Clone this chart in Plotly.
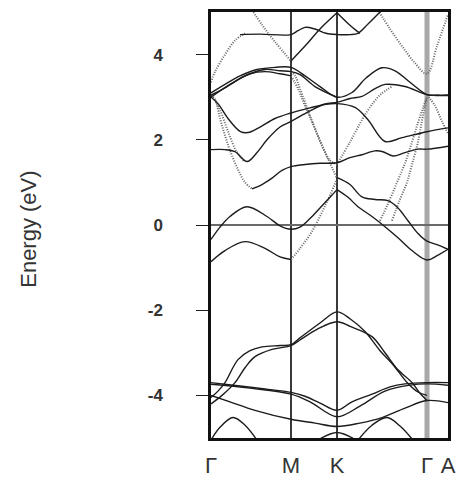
import plotly.graph_objects as go

# High-symmetry points along the path (cumulative k distance)
HSP_LABELS = ["Γ", "M", "K", "Γ", "A"]
HSP_K = [0.0, 0.80, 1.26, 2.16, 2.37]

Y_TICKS = [-4, -2, 0, 2, 4]
E_RANGE = [-5, 5]

# ---------------- solid bands (k, E in eV) ----------------
top_k = [0.29, 0.49, 0.80, 0.87, 0.94, 1.04, 1.15, 1.26, 1.39, 1.47, 1.57, 1.69, 1.77]
top_e = [4.47, 4.48, 4.47, 4.56, 4.64, 4.60, 4.50, 4.47, 4.47, 4.50, 4.72, 5.00, 5.20]

mk_up_k = [0.80, 0.94, 1.09, 1.26]
mk_up_e = [3.85, 4.20, 4.60, 4.98]

k_down_k = [1.26, 1.37, 1.46, 1.49]
k_down_e = [4.98, 4.73, 4.55, 4.50]

b2_k = [0.0, 0.14, 0.29, 0.46, 0.64, 0.80, 0.94, 1.09, 1.26, 1.41, 1.55, 1.71, 1.84, 1.99, 2.16, 2.26, 2.37]
b2_e = [3.10, 3.30, 3.50, 3.65, 3.70, 3.70, 3.50, 3.25, 3.00, 3.11, 3.45, 3.69, 3.62, 3.35, 3.06, 3.05, 3.05]

b3_k = [0.0, 0.14, 0.34, 0.54, 0.69, 0.80, 0.89, 1.04, 1.26]
b3_e = [3.05, 3.22, 3.50, 3.65, 3.62, 3.60, 3.53, 3.25, 3.00]

b4_k = [0.0, 0.19, 0.39, 0.54, 0.69, 0.80]
b4_e = [3.00, 3.30, 3.55, 3.60, 3.55, 3.50]

f_k = [0.0, 0.07, 0.17, 0.29, 0.37, 0.49, 0.64, 0.80, 0.99, 1.14, 1.26, 1.44, 1.57, 1.74, 1.91, 2.16, 2.37]
f_e = [3.00, 2.85, 2.50, 2.20, 2.17, 2.30, 2.50, 2.63, 2.75, 2.83, 2.85, 2.76, 2.47, 1.96, 2.05, 2.19, 2.28]

g_k = [0.0, 0.14, 0.24, 0.36, 0.46, 0.56, 0.69, 0.80, 0.99, 1.14, 1.26, 1.39, 1.51, 1.64, 1.74, 1.94, 2.16, 2.37]
g_e = [1.77, 1.77, 1.72, 1.49, 1.70, 2.00, 2.30, 2.43, 2.68, 2.84, 2.88, 2.97, 3.02, 3.20, 3.30, 3.25, 3.06, 3.04]

sl_k = [0.41, 0.51, 0.61, 0.71, 0.80, 0.94, 1.09, 1.26, 1.39, 1.51, 1.64, 1.72, 1.82, 1.94, 2.07, 2.16, 2.37]
sl_e = [0.85, 0.95, 1.10, 1.28, 1.37, 1.42, 1.45, 1.46, 1.58, 1.65, 1.74, 1.72, 1.62, 1.70, 1.78, 1.78, 1.85]

h_k = [0.0, 0.09, 0.19, 0.36, 0.56, 0.69, 0.80, 0.89, 0.99, 1.09, 1.19, 1.26]
h_e = [-0.34, -0.05, 0.20, 0.43, 0.20, -0.02, -0.10, -0.05, 0.15, 0.40, 0.65, 0.83]

i_k = [0.0, 0.14, 0.34, 0.54, 0.69, 0.80]
i_e = [-0.86, -0.60, -0.39, -0.55, -0.75, -0.81]

r1_k = [1.26, 1.39, 1.51, 1.64, 1.77, 1.87, 1.97, 2.07, 2.16, 2.26, 2.37]
r1_e = [1.11, 0.95, 0.66, 0.60, 0.57, 0.40, 0.10, -0.20, -0.38, -0.46, -0.57]

r2_k = [1.26, 1.37, 1.47, 1.61, 1.74, 1.87, 2.01, 2.16, 2.26, 2.37]
r2_e = [0.83, 0.65, 0.43, 0.20, -0.04, -0.30, -0.60, -0.82, -0.72, -0.57]

v1a_k = [0.0, 0.07, 0.14, 0.27, 0.39, 0.51, 0.69, 0.80, 0.89, 1.09, 1.26, 1.39, 1.54, 1.69, 1.81, 1.97, 2.07, 2.16]
v1a_e = [-4.05, -3.90, -3.70, -3.16, -2.95, -2.86, -2.83, -2.81, -2.65, -2.30, -2.04, -2.20, -2.50, -2.95, -3.25, -3.72, -3.92, -4.00]

v1b_k = [0.0, 0.11, 0.24, 0.34, 0.44, 0.61, 0.80, 0.89, 1.06, 1.26, 1.39, 1.61, 1.74, 1.87, 2.01, 2.09, 2.16]
v1b_e = [-4.20, -4.00, -3.70, -3.35, -3.09, -2.92, -2.83, -2.70, -2.45, -2.27, -2.38, -2.62, -3.00, -3.40, -3.70, -3.95, -4.12]

v3_k = [0.0, 0.29, 0.54, 0.80, 0.94, 1.09, 1.26, 1.41, 1.61, 1.79, 1.94, 2.16, 2.37]
v3_e = [-3.70, -3.78, -3.85, -3.93, -4.02, -4.18, -4.35, -4.15, -3.97, -3.80, -3.73, -3.70, -3.70]

v3b_k = [0.0, 0.39, 0.80, 0.99, 1.26, 1.49, 1.74, 1.99, 2.16, 2.37]
v3b_e = [-3.74, -3.83, -3.97, -4.15, -4.50, -4.25, -3.90, -3.76, -3.73, -3.76]

v4_k = [0.0, 0.19, 0.44, 0.80, 1.04, 1.26, 1.49, 1.71, 1.94, 2.16, 2.37]
v4_e = [-4.00, -4.15, -4.35, -4.56, -4.65, -4.73, -4.65, -4.52, -4.30, -4.12, -4.17]

h1_k = [0.0, 0.09, 0.22, 0.34, 0.46]
h1_e = [-5.05, -4.75, -4.52, -4.70, -5.05]

h2_k = [1.47, 1.61, 1.76, 1.89, 2.02]
h2_e = [-5.05, -4.70, -4.52, -4.72, -5.05]

h3_k = [1.09, 1.26, 1.43]
h3_e = [-5.02, -4.87, -5.02]

# ---------------- dotted bands ----------------
dtop_k = [0.0, 0.04, 0.14, 0.24, 0.34]
dtop_e = [3.35, 3.60, 4.00, 4.33, 4.50]

d1_k = [0.41, 0.51, 0.64, 0.80]
d1_e = [5.05, 4.70, 4.30, 3.85]

d2_k = [1.67, 1.79, 1.91, 2.04, 2.16, 2.26, 2.37]
d2_e = [5.05, 4.60, 4.20, 3.80, 3.55, 4.20, 4.95]

dm1_k = [0.80, 0.84, 0.89, 1.01, 1.11, 1.19, 1.26]
dm1_e = [3.60, 3.50, 3.20, 2.45, 1.85, 1.52, 1.42]

dm2_k = [0.80, 0.87, 0.94, 1.07, 1.17, 1.26]
dm2_e = [3.50, 3.20, 2.80, 2.10, 1.55, 1.10]

dk1_k = [1.26, 1.39, 1.56, 1.69, 1.81]
dk1_e = [1.42, 1.95, 2.66, 3.05, 3.25]

dl1_k = [0.0, 0.04, 0.09, 0.14, 0.19, 0.27, 0.34, 0.41]
dl1_e = [3.05, 2.95, 2.50, 2.10, 1.75, 1.30, 1.00, 0.85]

dl2_k = [0.02, 0.09, 0.17, 0.25, 0.33]
dl2_e = [3.00, 2.70, 2.20, 1.75, 1.50]

dkl_k = [0.80, 0.89, 1.01, 1.14, 1.26]
dkl_e = [-0.81, -0.55, -0.15, 0.45, 1.07]

dg1_k = [1.69, 1.77, 1.86, 1.94, 2.01, 2.07, 2.12, 2.16]
dg1_e = [0.10, 0.50, 1.00, 1.45, 1.95, 2.40, 2.75, 3.00]

dg2_k = [1.81, 1.89, 1.96, 2.01, 2.07, 2.11, 2.16]
dg2_e = [0.10, 0.60, 1.00, 1.42, 1.95, 2.45, 3.00]

da1_k = [2.16, 2.24, 2.31, 2.37]
da1_e = [3.05, 2.80, 2.43, 2.15]

solid_bands = [
    (top_k, top_e), (mk_up_k, mk_up_e), (k_down_k, k_down_e),
    (b2_k, b2_e), (b3_k, b3_e), (b4_k, b4_e),
    (f_k, f_e), (g_k, g_e), (sl_k, sl_e), (h_k, h_e), (i_k, i_e),
    (r1_k, r1_e), (r2_k, r2_e),
    (v1a_k, v1a_e), (v1b_k, v1b_e), (v3_k, v3_e), (v3b_k, v3b_e),
    (v4_k, v4_e), (h1_k, h1_e), (h2_k, h2_e), (h3_k, h3_e),
]
dotted_bands = [
    (dtop_k, dtop_e), (d1_k, d1_e), (d2_k, d2_e), (dm1_k, dm1_e),
    (dm2_k, dm2_e), (dk1_k, dk1_e), (dl1_k, dl1_e), (dl2_k, dl2_e),
    (dkl_k, dkl_e), (dg1_k, dg1_e), (dg2_k, dg2_e), (da1_k, da1_e),
]

fig = go.Figure()

for k, e in dotted_bands:
    fig.add_trace(go.Scatter(
        x=k, y=e, mode="lines", hoverinfo="skip", showlegend=False,
        line=dict(color="#666666", width=2, dash="1px,1.5px", shape="spline", smoothing=1.0),
    ))

for k, e in solid_bands:
    fig.add_trace(go.Scatter(
        x=k, y=e, mode="lines", hoverinfo="skip", showlegend=False,
        line=dict(color="#1c1c1c", width=1.4, shape="spline", smoothing=1.0),
    ))

# vertical separators at the interior high-symmetry points
for idx, kx in enumerate(HSP_K[1:-1], start=1):
    gamma_mid = HSP_LABELS[idx] == "Γ"
    fig.add_shape(
        type="line", xref="x", yref="paper", x0=kx, x1=kx, y0=0, y1=1,
        line=dict(color="#a8a8a8" if gamma_mid else "#3a3a3a", width=5 if gamma_mid else 2),
        layer="below",
    )

fig.update_layout(
    width=458, height=477,
    margin=dict(l=211, r=10, t=12, b=39, autoexpand=False),
    paper_bgcolor="white", plot_bgcolor="white",
    font=dict(family="Liberation Sans, Arial, sans-serif", color="#2a2a2a"),
    annotations=[dict(
        text="Energy (eV)", textangle=-90, showarrow=False,
        xref="paper", yref="paper", x=-0.77, y=0.49,
        xanchor="center", yanchor="middle",
        font=dict(size=22, color="#333333"),
    )],
)

fig.update_xaxes(
    range=[HSP_K[0], HSP_K[-1]], automargin=False,
    tickmode="array", tickvals=HSP_K, ticktext=HSP_LABELS,
    ticks="", showgrid=False, zeroline=False,
    showline=True, mirror=True, linecolor="#111111", linewidth=2.5,
    tickfont=dict(size=22, color="#333333"),
    ticklabelstandoff=6,
)

fig.update_yaxes(
    range=E_RANGE, automargin=False,
    tickmode="array", tickvals=Y_TICKS, ticktext=[str(t) for t in Y_TICKS],
    ticks="outside", ticklen=12, tickwidth=1.2, tickcolor="#222222",
    showgrid=False,
    zeroline=True, zerolinecolor="#6a6a6a", zerolinewidth=1.5,
    showline=True, mirror=True, linecolor="#111111", linewidth=2.5,
    tickfont=dict(size=17, color="#333333", weight="bold"),
    ticklabelstandoff=30,
)

fig.write_html("out.html")
